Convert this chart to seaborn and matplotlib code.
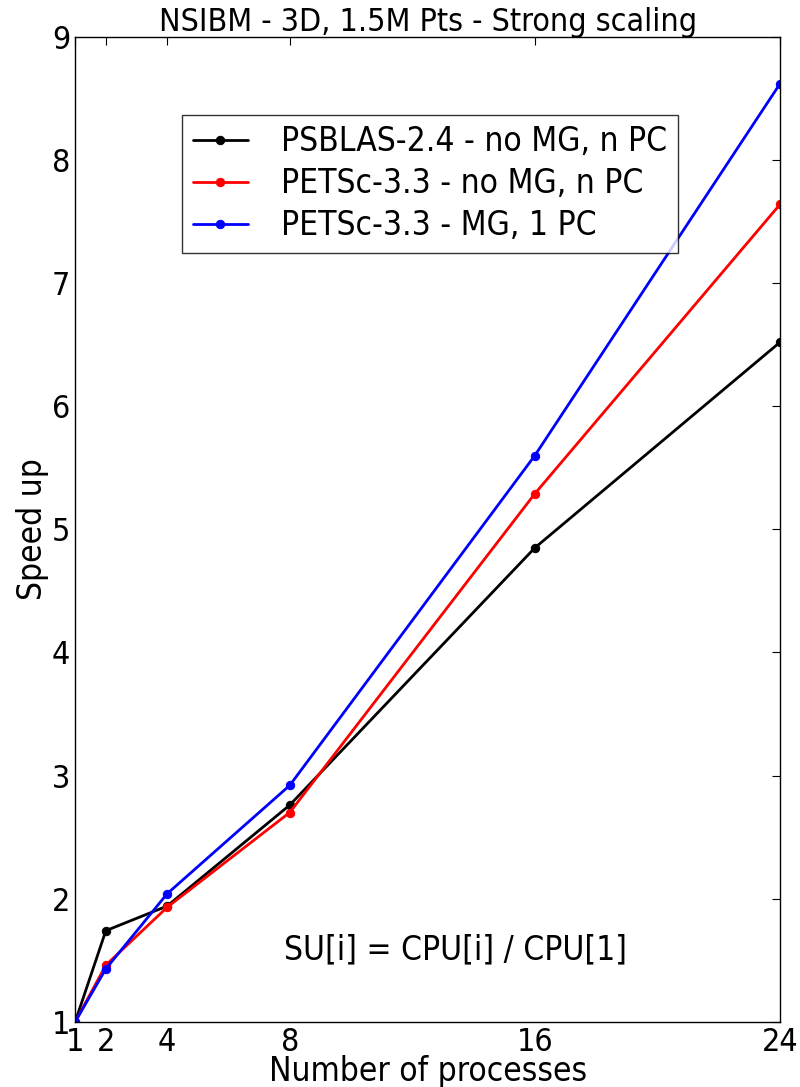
import matplotlib
matplotlib.use("Agg")
import matplotlib.pyplot as plt
import seaborn as sns
import pandas as pd

procs = [1, 2, 4, 8, 16, 24]
psblas = [1.0, 1.74, 1.94, 2.76, 4.85, 6.52]
petsc_nomg = [1.0, 1.46, 1.93, 2.70, 5.29, 7.64]
petsc_mg = [1.0, 1.43, 2.04, 2.92, 5.60, 8.62]
labels = ["PSBLAS-2.4 - no MG, n PC", "PETSc-3.3 - no MG, n PC", "PETSc-3.3 - MG, 1 PC"]
colors = ["black", "red", "blue"]
xticks = [1, 2, 4, 8, 16, 24]
yticks = [1, 2, 3, 4, 5, 6, 7, 8, 9]

sns.set_style("white")
plt.rcParams["font.family"] = ["DejaVu Sans"]
plt.rcParams["font.stretch"] = "condensed"
plt.rcParams["xtick.direction"] = "in"
plt.rcParams["ytick.direction"] = "in"
plt.rcParams["text.color"] = "black"
plt.rcParams["axes.labelcolor"] = "black"
plt.rcParams["xtick.color"] = "black"
plt.rcParams["ytick.color"] = "black"

rows = []
for lab, ys in zip(labels, [psblas, petsc_nomg, petsc_mg]):
    for x, y in zip(procs, ys):
        rows.append({"procs": x, "speedup": y, "series": lab})
df = pd.DataFrame(rows)

fig = plt.figure(figsize=(8, 10.87), dpi=100)
ax = fig.add_axes([0.094, 0.06, 0.881, 0.906])
sns.lineplot(data=df, x="procs", y="speedup", hue="series", palette=colors,
             hue_order=labels, marker="o", markersize=6, linewidth=2,
             ax=ax, legend=True)
for line in ax.get_lines():
    line.set_markeredgecolor(line.get_color())

ax.set_xlim(1, 24)
ax.set_ylim(1, 9)
ax.set_xticks(xticks)
ax.set_yticks(yticks)
ax.tick_params(axis="both", labelsize=23, length=6, width=0.8, top=True, right=True,
               colors="black")
for s in ax.spines.values():
    s.set_color("black")
    s.set_linewidth(1.0)
ax.set_xlabel("Number of processes", fontsize=24, labelpad=-2)
ax.set_ylabel("Speed up", fontsize=24, labelpad=2)
ax.set_title("NSIBM - 3D, 1.5M Pts - Strong scaling", fontsize=23, pad=4)

leg = ax.legend(loc="upper left", bbox_to_anchor=(0.152, 0.921), fontsize=24,
                frameon=True, fancybox=False, edgecolor="black", borderaxespad=0,
                handlelength=1.65, handletextpad=1.0, borderpad=0.32, labelspacing=0.27)
leg.get_frame().set_linewidth(1.0)
for t in leg.get_texts():
    t.set_color("black")

ax.text(0.54, 0.073, "SU[i] = CPU[i] / CPU[1]", transform=ax.transAxes,
        fontsize=24, ha="center", va="center", color="black")

fig.savefig("out.png", dpi=100)
